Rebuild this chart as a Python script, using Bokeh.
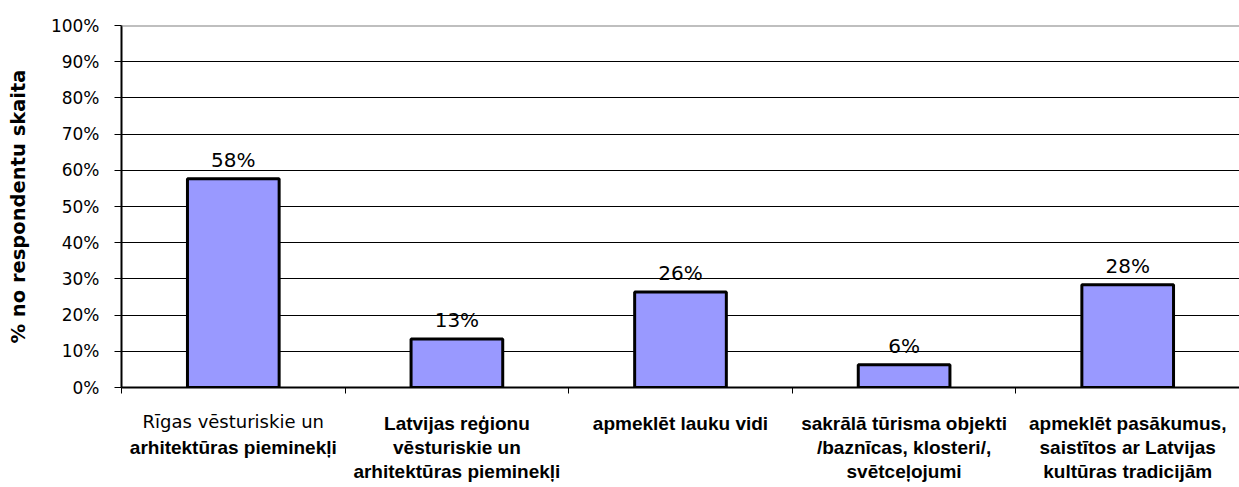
from bokeh.plotting import figure
from bokeh.models import (ColumnDataSource, Range1d, FixedTicker, PrintfTickFormatter,
                          Span, LabelSet, LinearAxis)
from bokeh.core.properties import value
from bokeh.embed import file_html
from bokeh.resources import INLINE

# ---- data ----
categories = [
    "Rīgas vēsturiskie un\narhitektūras pieminekļi",
    "Latvijas reģionu\nvēsturiskie un\narhitektūras pieminekļi",
    "apmeklēt lauku vidi",
    "sakrālā tūrisma objekti\n/baznīcas, klosteri/,\nsvētceļojumi",
    "apmeklēt pasākumus,\nsaistītos ar Latvijas\nkultūras tradicijām",
]
values = [57.7, 13.4, 26.4, 6.3, 28.4]
value_labels = ["58%", "13%", "26%", "6%", "28%"]
y_ticks = [0, 10, 20, 30, 40, 50, 60, 70, 80, 90, 100]
y_axis_title = "% no respondentu skaita"

n = len(categories)
xs = [i + 0.5 for i in range(n)]
src = ColumnDataSource(dict(x=xs, top=values, lab=value_labels))

p = figure(width=1239, height=487, output_backend="svg", toolbar_location=None,
           x_range=Range1d(0, n), y_range=Range1d(0, 100),
           min_border_left=121, min_border_right=0, min_border_top=25,
           min_border_bottom=100)
p.outline_line_color = None
p.background_fill_color = "white"
p.border_fill_color = "white"

p.vbar(x="x", top="top", width=0.41, bottom=0, source=src,
       fill_color="#9999ff", line_color="black", line_width=3)

# grid
p.xgrid.visible = False
p.ygrid.ticker = FixedTicker(ticks=y_ticks[1:-1])
p.ygrid.grid_line_color = "black"
p.ygrid.grid_line_width = 1
p.add_layout(Span(location=100, dimension="width", line_color="#808080", line_width=2))

# y axis
ya = p.yaxis[0]
ya.ticker = FixedTicker(ticks=y_ticks)
ya.formatter = PrintfTickFormatter(format="%d%%")
ya.major_label_text_font = "DejaVu Sans"
ya.major_label_text_font_size = "17px"
ya.major_label_text_color = "black"
ya.major_tick_in = 0
ya.major_tick_out = 7
ya.minor_tick_out = 0
ya.minor_tick_in = 0
ya.major_label_standoff = 15
ya.axis_line_color = "black"
ya.axis_line_width = 2
ya.major_tick_line_color = "black"
ya.axis_label = y_axis_title
ya.axis_label_text_font = "DejaVu Sans"
ya.axis_label_text_font_style = "bold"
ya.axis_label_text_font_size = "19.5px"
ya.axis_label_text_color = "black"
ya.axis_label_standoff = 18

# main x axis: line, boundary tick marks (minor), and the normal-weight first line
# of the first category
first_line = categories[0].split("\n")[0]
xa = p.xaxis[0]
xa.ticker = FixedTicker(ticks=[xs[0]], minor_ticks=list(range(n + 1)))
xa.major_label_overrides = {xs[0]: first_line}
xa.major_label_text_font = "DejaVu Sans"
xa.major_label_text_font_size = "18px"
xa.major_label_text_color = "black"
xa.major_label_standoff = 17
xa.major_tick_in = 0
xa.major_tick_out = 0
xa.minor_tick_in = 0
xa.minor_tick_out = 6
xa.minor_tick_line_color = "black"
xa.axis_line_color = "black"
xa.axis_line_width = 2

# bold category names at the bar centres, pulled up to share the first row
bold_text = {}
for i, cat in enumerate(categories):
    lines = cat.split("\n")
    if i == 0:
        lines[0] = " "
    bold_text[xs[i]] = "\n".join(lines)

xb = LinearAxis(ticker=FixedTicker(ticks=xs, minor_ticks=[]),
                major_label_overrides=bold_text,
                major_label_text_font="Liberation Sans", major_label_text_font_style="bold",
                major_label_text_font_size="19px", major_label_text_line_height=1.15,
                major_label_text_color="black", major_label_standoff=-22,
                major_tick_in=0, major_tick_out=0, minor_tick_in=0, minor_tick_out=0,
                axis_line_color=None)
p.add_layout(xb, "below")

# value labels
p.add_layout(LabelSet(x="x", y="top", text="lab", source=src, text_align="center",
                      text_baseline="alphabetic", y_offset=12,
                      text_font=value("DejaVu Sans"), text_font_size="20px",
                      text_color="black"))

open("out.html", "w").write(file_html(p, INLINE))
